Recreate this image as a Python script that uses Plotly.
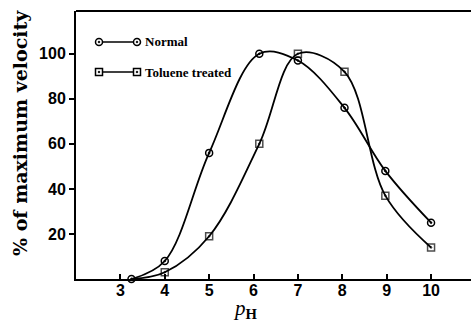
import plotly.graph_objects as go

# Data
ph = [3.25, 4, 5, 6.13, 7, 8.05, 8.97, 10]
normal = [0, 8, 56, 100, 97, 76, 48, 25]
toluene = [0, 3, 19, 60, 100, 92, 37, 14]
x_ticks = [3, 4, 5, 6, 7, 8, 9, 10]
y_ticks = [20, 40, 60, 80, 100]
series_names = ["Normal", "Toluene treated"]

W, H = 471, 327
L, R, T, B = 76, 0, 11, 48
pw, ph_px = W - L - R, H - T - B

fig = go.Figure()
fig.add_trace(go.Scatter(
    x=ph, y=normal, mode="lines+markers", name=series_names[0],
    line=dict(color="black", width=1.8, shape="spline", smoothing=1.0),
    marker=dict(symbol="circle-open-dot", size=7, color="black", line=dict(width=1.5)),
    showlegend=False, cliponaxis=False))
fig.add_trace(go.Scatter(
    x=ph, y=toluene, mode="lines+markers", name=series_names[1],
    line=dict(color="black", width=1.8, shape="spline", smoothing=1.0),
    marker=dict(symbol="square-open-dot", size=[0] + [7] * (len(ph) - 1),
                color="black", line=dict(width=1.5)),
    showlegend=False, cliponaxis=False))

# Hand-drawn-style legend (line with marker at each end)
def px2paper(xp, yp):
    return (xp - L) / pw, (H - B - yp) / ph_px

shapes = []
annotations = []
legend_rows = [(42, "circle"), (72, "square")]
for (yp, sym), name in zip(legend_rows, series_names):
    x0, y0 = px2paper(99, yp)
    x1, _ = px2paper(137, yp)
    shapes.append(dict(type="line", xref="paper", yref="paper", x0=x0, x1=x1, y0=y0, y1=y0,
                       line=dict(color="black", width=1.5)))
    for xm in (x0, x1):
        shp = "circle" if sym == "circle" else "rect"
        shapes.append(dict(type=shp, xref="paper", yref="paper", xsizemode="pixel", ysizemode="pixel",
                           xanchor=xm, yanchor=y0, x0=-3.5, x1=3.5, y0=-3.5, y1=3.5,
                           line=dict(color="black", width=1.5), fillcolor="white"))
        shapes.append(dict(type="circle", xref="paper", yref="paper", xsizemode="pixel", ysizemode="pixel",
                           xanchor=xm, yanchor=y0, x0=-0.8, x1=0.8, y0=-0.8, y1=0.8,
                           line=dict(color="black", width=1), fillcolor="black"))
    tx, _ = px2paper(143, yp)
    annotations.append(dict(text="<b>%s</b>" % name, xref="paper", yref="paper", x=tx, y=y0,
                            xanchor="left", yanchor="middle", showarrow=False,
                            font=dict(family="Liberation Serif", size=13, color="black")))

# Top frame line
shapes.append(dict(type="line", xref="paper", yref="paper", x0=0, x1=1, y0=1, y1=1,
                   line=dict(color="black", width=2)))

# Axis titles
yx, yy = px2paper(20, 133)
annotations.append(dict(text="<b>% of maximum velocity</b>", xref="paper", yref="paper",
                        x=yx, y=yy, textangle=-90, showarrow=False, xanchor="center", yanchor="middle",
                        font=dict(family="DejaVu Serif", size=19, color="black")))
tx, ty = px2paper(245, 309)
annotations.append(dict(text="<i>p</i><sub><b>H</b></sub>", xref="paper", yref="paper",
                        x=tx, y=ty, showarrow=False, xanchor="center", yanchor="middle",
                        font=dict(family="Liberation Serif", size=21, color="black")))

fig.update_layout(
    width=W, height=H,
    margin=dict(l=L, r=R, t=T, b=B, pad=0),
    paper_bgcolor="white", plot_bgcolor="white",
    shapes=shapes, annotations=annotations,
    xaxis=dict(range=[2.0, 10.9], tickvals=x_ticks, ticktext=["<b>%d</b>" % v for v in x_ticks],
               showgrid=False, zeroline=False, showline=True, linecolor="black", linewidth=2,
               ticks="inside", ticklen=5, tickwidth=1.5, tickcolor="black", ticklabelstandoff=-4,
               tickfont=dict(family="Liberation Sans", size=16, color="black")),
    yaxis=dict(range=[0, 119], tickvals=y_ticks, ticktext=["<b>%d</b>" % v for v in y_ticks],
               showgrid=False, zeroline=False, showline=True, linecolor="black", linewidth=2,
               ticks="outside", ticklen=5, tickwidth=1.5, tickcolor="black",
               tickfont=dict(family="Liberation Sans", size=16, color="black")),
)

fig.write_html("out.html")
